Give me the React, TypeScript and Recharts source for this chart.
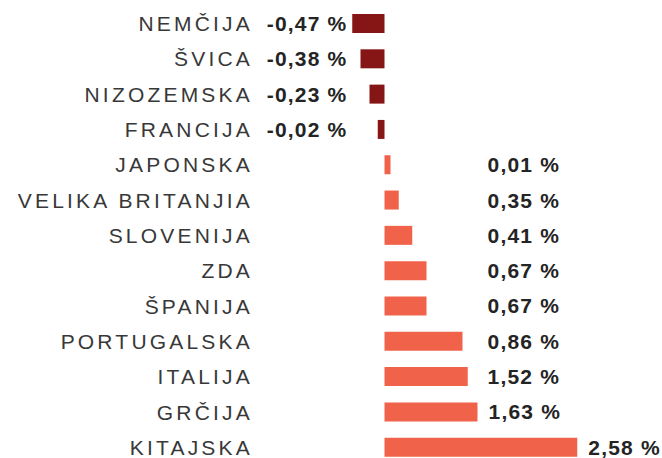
import { BarChart, Bar, XAxis, YAxis, Cell, LabelList } from 'recharts';

const countries = [
  'NEMČIJA',
  'ŠVICA',
  'NIZOZEMSKA',
  'FRANCIJA',
  'JAPONSKA',
  'VELIKA BRITANJIA',
  'SLOVENIJA',
  'ZDA',
  'ŠPANIJA',
  'PORTUGALSKA',
  'ITALIJA',
  'GRČIJA',
  'KITAJSKA',
];

// printed values (%)
const shares = [-0.47, -0.38, -0.23, -0.02, 0.01, 0.35, 0.41, 0.67, 0.67, 0.86, 1.52, 1.63, 2.58];

// bar lengths as drawn in the original graphic (same % units, not proportional to the labels)
const drawn = [-0.43, -0.32, -0.2, -0.09, 0.08, 0.19, 0.37, 0.56, 0.56, 1.04, 1.11, 1.24, 2.57];

const data = countries.map((country, i) => ({ country, share: shares[i], drawn: drawn[i] }));

const NEG = '#861515';
const POS = '#F0634A';

const fmt = (v: number) => `${v.toFixed(2).replace('.', ',')} %`;

function CountryTick(props: any) {
  const { x, y, payload } = props;
  return (
    <text
      x={x + 9}
      y={y}
      textAnchor="end"
      dominantBaseline="central"
      fill="#383838"
      fontSize={21}
      letterSpacing={3.2}
      fontFamily="'Liberation Sans', Arial, sans-serif"
    >
      {payload.value}
    </text>
  );
}

function ValueLabel(props: any) {
  const { x, y, width, height, index } = props;
  const v = shares[index];
  const left = Math.min(x, x + width);
  const right = Math.max(x, x + width);
  const cy = y + height / 2;
  const style = {
    fontSize: 21,
    fontWeight: 700,
    fill: '#242424',
    fontFamily: "'Liberation Sans', Arial, sans-serif",
  };
  if (v < 0) {
    return (
      <text x={right - 37} y={cy} textAnchor="end" dominantBaseline="central" letterSpacing={1.2} {...style}>
        {fmt(v)}
      </text>
    );
  }
  return (
    <text
      x={Math.max(left + 103, right + 11)}
      y={cy}
      textAnchor="start"
      dominantBaseline="central"
      letterSpacing={1.2}
      {...style}
    >
      {fmt(v)}
    </text>
  );
}

export default function App() {
  return (
    <div style={{ position: 'absolute', left: 0, top: 0, width: 662, height: 458, overflow: 'hidden', background: '#fff' }}>
      <BarChart
        width={662}
        height={465}
        data={data}
        layout="vertical"
        margin={{ top: 6, right: 0, bottom: 0, left: 0 }}
      >
        <XAxis type="number" hide domain={[-1.74, 3.7]} allowDataOverflow />
        <YAxis
          type="category"
          dataKey="country"
          width={254}
          axisLine={false}
          tickLine={false}
          tickMargin={4}
          tick={<CountryTick />}
          interval={0}
        />
        <Bar dataKey="drawn" barSize={19} isAnimationActive={false}>
          {data.map((d, i) => (
            <Cell key={i} fill={d.share < 0 ? NEG : POS} />
          ))}
          <LabelList dataKey="drawn" content={<ValueLabel />} />
        </Bar>
      </BarChart>
    </div>
  );
}
